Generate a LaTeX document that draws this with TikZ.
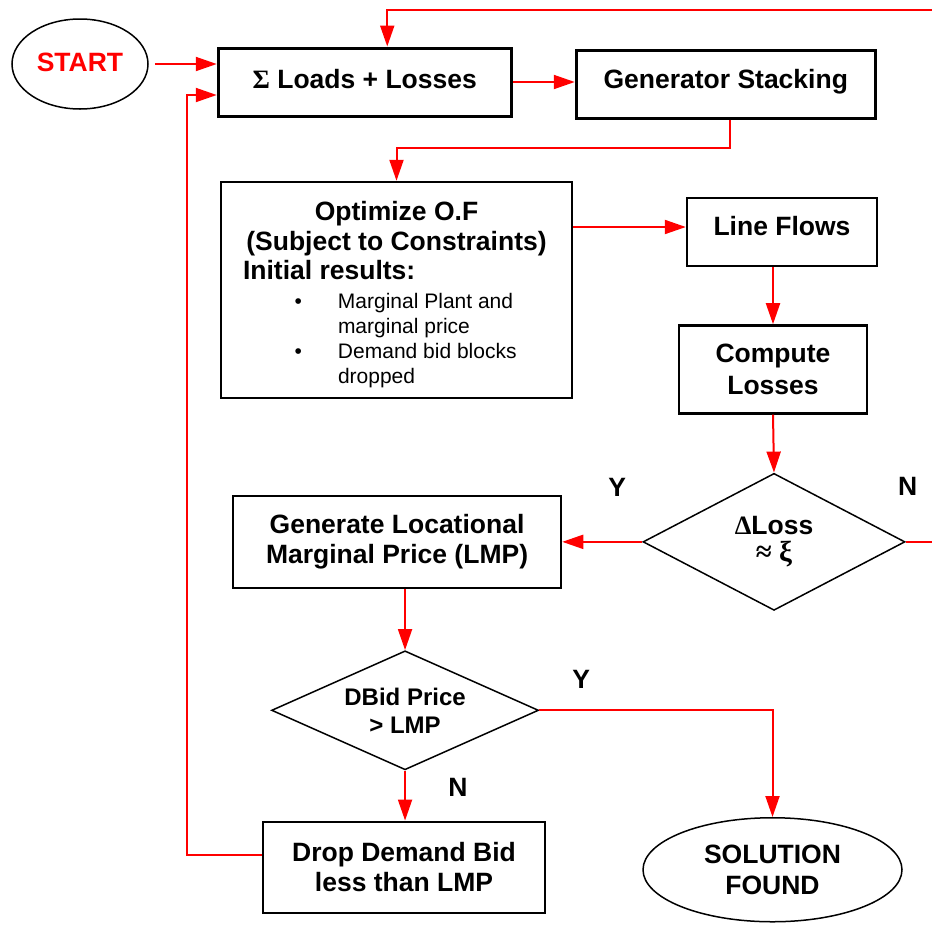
\documentclass[tikz,border=0pt]{standalone}
\usepackage{fontspec}
\setmainfont{Liberation Sans}
\newfontfamily\greekfont{Liberation Serif}
\usetikzlibrary{positioning,shapes.geometric,arrows.meta}

\begin{document}
\begin{tikzpicture}[x=1pt,y=-1pt,
    every node/.style={font=\bfseries\fontsize{26.5}{30}\selectfont, align=center, inner sep=0pt},
    block/.style={draw, line width=2.4pt, rectangle},
    terminal/.style={draw, line width=1.5pt, ellipse},
    decision/.style={draw, line width=1.5pt, diamond},
    flow/.style={red, line width=2pt, -{Triangle[length=21pt,width=14pt]}}
  ]
    \useasboundingbox (0,0) rectangle (932,927);
    \node[terminal, text=red, minimum width=136pt, minimum height=90pt, text depth=3pt] (start) at (80,64) {START};
    \node[block, line width=3pt, minimum width=293pt, minimum height=68pt, right=68pt of start, yshift=-18pt, text depth=6pt] (loads) {{\greekfont Σ} Loads + Losses};
    \node[block, line width=3pt, minimum width=299pt, minimum height=68pt, right=62pt of loads, yshift=-2pt, text depth=11pt] (gen) {Generator Stacking};
    \node[block, minimum height=216pt, text width=331pt, inner xsep=10pt, align=left, font=\bfseries\fontsize{26.5}{29.5}\selectfont] (opt) at (396.5,290) {%
      \spaceskip=0pt\xspaceskip=0pt
      {\centering Optimize O.F\\(Subject to Constraints)\par}
      \hspace*{12pt}Initial results:\par
      \vspace{4pt}
      {\normalfont\fontsize{21}{25}\selectfont\raggedright\leftskip=107pt\rightskip=0pt plus 1fil
      \leavevmode\llap{\textbullet\hspace{36pt}}Marginal Plant and\par
      marginal price\par
      \leavevmode\llap{\textbullet\hspace{36pt}}Demand bid blocks\par
      dropped\par}
      \vspace{-10pt}\nointerlineskip\hbox{}};
    \node[block, minimum width=190pt, minimum height=68pt, text depth=13pt] (flows) at (782,232) {Line Flows};
    \node[block, minimum width=188pt, minimum height=88pt, below=57pt of flows, xshift=-9pt, font=\bfseries\fontsize{26.5}{32}\selectfont] (loss) {Compute\\Losses};
    \node[decision, aspect=1.9, minimum width=262pt, minimum height=137pt, below=58pt of loss, xshift=1pt, font=\bfseries\fontsize{26.5}{27}\selectfont] (dloss) {{\greekfont Δ}Loss\\{\greekfont\fontsize{29}{27}\selectfont ≈ ξ}};
    \node[block, minimum width=328pt, minimum height=92pt, left=80pt of dloss] (lmp) {Generate Locational\\Marginal Price (LMP)};
    \node[decision, aspect=2.2, minimum width=267pt, minimum height=119pt, below=61pt of lmp, xshift=8pt, font=\bfseries\fontsize{24}{28}\selectfont] (dbid) {DBid Price\\> LMP};
    \node[block, minimum width=282pt, minimum height=91pt, below=50pt of dbid, xshift=-1pt] (drop) {Drop Demand Bid\\less than LMP};
    \node[terminal, minimum width=259pt, minimum height=104pt, right=96pt of drop, yshift=-2.5pt, font=\bfseries\fontsize{26.5}{31}\selectfont] (sol) {SOLUTION\\FOUND};
    \node (y1) at ([xshift=-25pt,yshift=54pt]dloss.west) {Y};
    \node (n1) at ([xshift=2pt,yshift=55pt]dloss.east) {N};
    \node (y2) at ([xshift=42pt,yshift=31pt]dbid.east) {Y};
    \node (n2) at ([xshift=53pt,yshift=-17pt]dbid.south) {N};
    \coordinate (back) at (935,10);
    \coordinate (retry) at (187,95);
    \draw[flow, shorten <=6pt] (start.east) -- (start.east -| loads.west);
    \draw[flow] (loads.east) -- (loads.east -| gen.west);
    \draw[flow] ([xshift=4pt]gen.south) -- ++(0,28) -| (opt.north);
    \draw[flow] ([yshift=5pt]flows.west -| opt.east) -- ([yshift=5pt]flows.west);
    \draw[flow] (loss.north |- flows.south) -- (loss.north);
    \draw[flow] (loss.south) -- (dloss.north);
    \draw[flow] (dloss.west) -- (lmp.east);
    \draw[flow] (dbid.north |- lmp.south) -- (dbid.north);
    \draw[flow] (dbid.south) -- (dbid.south |- drop.north);
    \draw[flow] (dbid.east) -| (sol.north);
    \draw[flow] (dloss.east) -- (dloss.east -| back) -- (back) -| ([xshift=22.5pt]loads.north);
    \draw[flow] ([yshift=12pt]drop.west) -| (retry) -- (retry -| loads.west);
\end{tikzpicture}
\end{document}
